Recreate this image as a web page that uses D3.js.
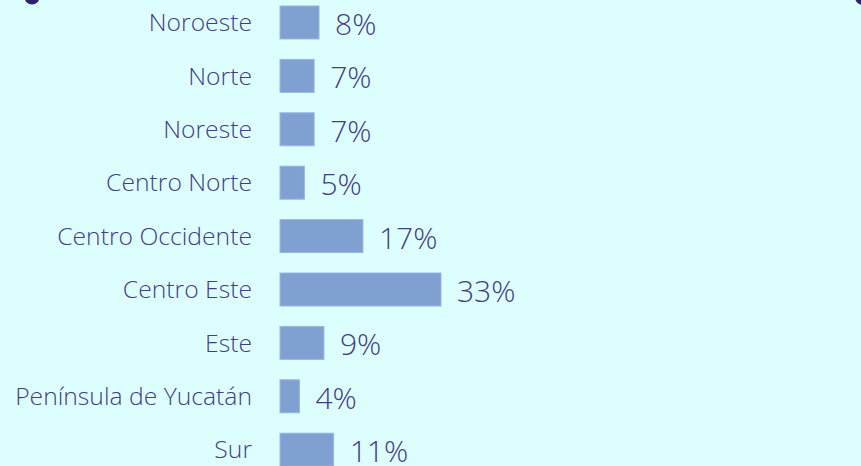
<!DOCTYPE html>
<html>
<head>
<meta charset="utf-8">
<script src="https://cdn.jsdelivr.net/npm/d3@7"></script>
<style>
  html, body { margin: 0; padding: 0; background: #dcfffe; }
  svg { display: block; font-family: "Open Sans", "Noto Sans", sans-serif; }
</style>
</head>
<body>
<div id="chart"></div>
<script>
const regions = ['Noroeste', 'Norte', 'Noreste', 'Centro Norte', 'Centro Occidente',
  'Centro Este', 'Este', 'Península de Yucatán', 'Sur'];
const shares = [8, 7, 7, 5, 17, 33, 9, 4, 11];
const shareLabels = ['8%', '7%', '7%', '5%', '17%', '33%', '9%', '4%', '11%'];

const width = 861;
const height = 466;
const barLeft = 280;

const svg = d3.select('#chart')
  .append('svg')
  .attr('width', width)
  .attr('height', height);

svg.append('rect')
  .attr('width', width)
  .attr('height', height)
  .attr('fill', '#dcfffe');

// decorative dots peeking in at the top edge
svg.append('circle').attr('cx', 32).attr('cy', -3).attr('r', 7.5).attr('fill', '#2e2270');
svg.append('circle').attr('cx', 863).attr('cy', -3).attr('r', 8).attr('fill', '#2e2270');

const x = d3.scaleLinear()
  .domain([0, 33])
  .range([0, 161]);

const y = d3.scaleBand()
  .domain(regions)
  .range([-4.7, 476.9])
  .paddingInner(0.382)
  .paddingOuter(0.2);

const rows = svg.selectAll('.row')
  .data(regions)
  .enter().append('g')
  .attr('class', 'row');

rows.append('rect')
  .attr('x', barLeft)
  .attr('y', d => y(d))
  .attr('width', (d, i) => x(shares[i]))
  .attr('height', y.bandwidth())
  .attr('fill', '#7fa0d1')
  .attr('stroke', '#9bb6df')
  .attr('stroke-width', 1);

rows.append('text')
  .attr('x', barLeft - 28)
  .attr('y', d => y(d) + y.bandwidth() / 2)
  .attr('dy', '0.35em')
  .attr('text-anchor', 'end')
  .attr('font-size', 24.7)
  .attr('font-weight', 300)
  .attr('fill', '#463b85')
  .text(d => d);

rows.append('text')
  .attr('x', (d, i) => barLeft + x(shares[i]) + 16)
  .attr('y', d => y(d) + y.bandwidth() / 2 + 2)
  .attr('dy', '0.35em')
  .attr('font-size', 30)
  .attr('font-weight', 300)
  .attr('fill', '#463b85')
  .text((d, i) => shareLabels[i]);
</script>
</body>
</html>
